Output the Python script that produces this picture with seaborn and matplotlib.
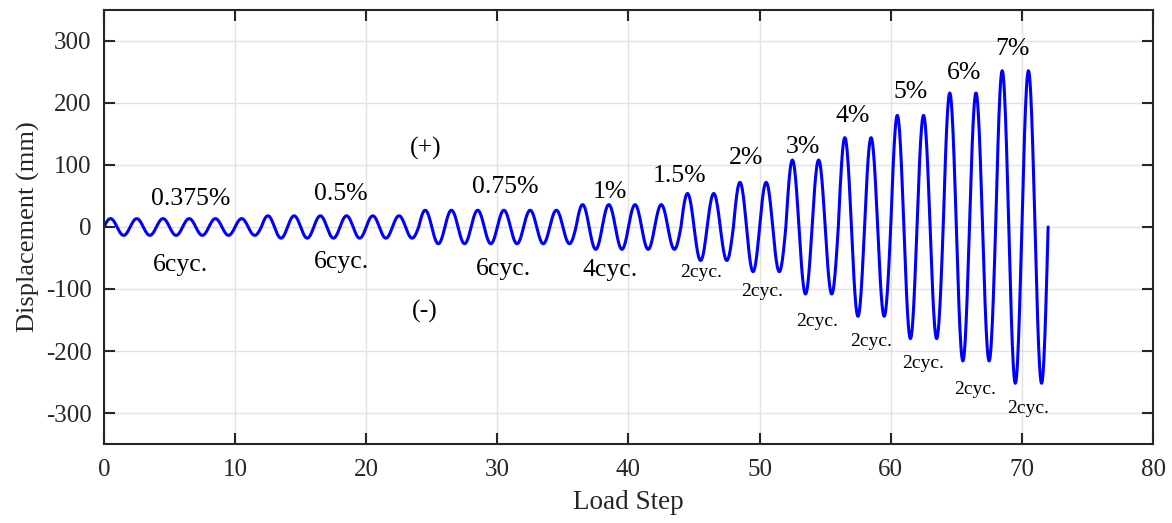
import numpy as np
import pandas as pd
import matplotlib
matplotlib.use("Agg")
import matplotlib.pyplot as plt
import seaborn as sns

# ---- data ----
drift_labels = ["0.375%", "0.5%", "0.75%", "1%", "1.5%", "2%", "3%", "4%", "5%", "6%", "7%"]
amplitudes_mm = [13.5, 18, 27, 36, 54, 72, 108, 144, 180, 216, 252]
cycles = [6, 6, 6, 4, 2, 2, 2, 2, 2, 2, 2]
steps_per_cycle = 2

# label positions (load step, displacement)
drift_label_x = [6.6, 18.1, 30.6, 38.6, 43.9, 49.0, 53.3, 57.1, 61.5, 65.6, 69.3]
drift_label_y = [45, 53, 65, 56, 82, 111, 129, 179, 218, 249, 287]
cyc_labels = ["6cyc.", "6cyc.", "6cyc.", "4cyc.", "2cyc.", "2cyc.", "2cyc.", "2cyc.", "2cyc.", "2cyc.", "2cyc."]
cyc_label_x = [5.8, 18.1, 30.5, 38.6, 45.5, 50.2, 54.4, 58.5, 62.5, 66.4, 70.5]
cyc_label_y = [-62, -57, -68, -70, -73, -104, -152, -184, -220, -262, -292]
cyc_label_size = [18.5, 18.5, 18.5, 18.5, 14, 14, 14, 14, 14, 14, 14]

# ---- build the loading history (sinusoidal cycles) ----
xs, ys = [], []
start = 0.0
for amp, n in zip(amplitudes_mm, cycles):
    for _ in range(n):
        t = np.linspace(0, 1, 80, endpoint=False)
        xs.append(start + t * steps_per_cycle)
        ys.append(amp * np.sin(2 * np.pi * t))
        start += steps_per_cycle
xs.append(np.array([start]))
ys.append(np.array([0.0]))
df = pd.DataFrame({"Load Step": np.concatenate(xs), "Displacement (mm)": np.concatenate(ys)})

# ---- plot ----
sns.set_theme(style="white")
plt.rcParams["font.family"] = ["Liberation Serif", "DejaVu Serif"]
plt.rcParams["axes.unicode_minus"] = False

fig, ax = plt.subplots(figsize=(11.72, 5.23), dpi=100)
fig.subplots_adjust(left=0.0887, right=0.9838, top=0.981, bottom=0.151)

sns.lineplot(data=df, x="Load Step", y="Displacement (mm)", ax=ax,
             sort=False, estimator=None, color="#0000ff", linewidth=2.2)

ax.set_xlim(0, 80)
ax.set_ylim(-350, 350)
ax.set_xticks(np.arange(0, 81, 10))
ax.set_yticks(np.arange(-300, 301, 100))
ax.grid(True, color="#e2e2e2", linewidth=1.0)
ax.set_axisbelow(True)

dark = "#262626"
for s in ax.spines.values():
    s.set_visible(True)
    s.set_color(dark)
    s.set_linewidth(1.5)
ax.tick_params(direction="in", length=8, width=1.5, color=dark,
               labelsize=18, labelcolor=dark,
               top=True, right=True, bottom=True, left=True,
               labeltop=False, labelright=False)
ax.tick_params(axis="x", pad=11)
ax.tick_params(axis="y", pad=9)

ax.set_xlabel("Load Step", fontsize=19.5, color=dark, labelpad=6)
ax.set_ylabel("Displacement (mm)", fontsize=19, color=dark, labelpad=4)

for lab, x, y in zip(drift_labels, drift_label_x, drift_label_y):
    ax.text(x, y, lab, fontsize=18.5, color="black", ha="center", va="center")
for lab, x, y, fs in zip(cyc_labels, cyc_label_x, cyc_label_y, cyc_label_size):
    ax.text(x, y, lab, fontsize=fs, color="black", ha="center", va="center")

ax.text(24.5, 126, "(+)", fontsize=18.5, color="black", ha="center", va="center")
ax.text(24.5, -137, "(-)", fontsize=18.5, color="black", ha="center", va="center")

fig.savefig("out.png", dpi=100)
